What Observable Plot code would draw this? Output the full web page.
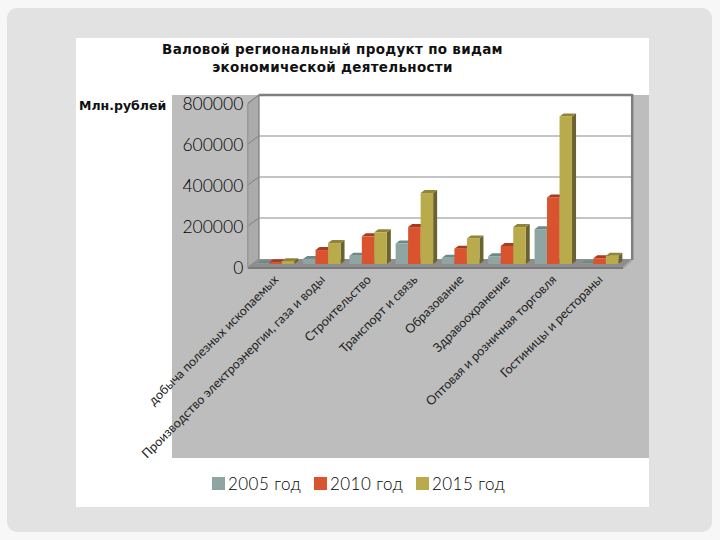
<!DOCTYPE html>
<html><head><meta charset="utf-8">
<script src="https://cdn.jsdelivr.net/npm/d3@7"></script>
<script src="https://cdn.jsdelivr.net/npm/@observablehq/plot@0.6"></script>
<style>
html,body{margin:0;padding:0;background:#f7f7f7;}
#stage{position:relative;width:720px;height:540px;overflow:hidden;font-family:Lato,sans-serif;}
#slide{position:absolute;left:7px;top:8px;width:705px;height:524px;background:#e2e2e2;border-radius:10px;}
#page{position:absolute;left:76px;top:38px;width:573px;height:469px;background:#fff;}
#panel{position:absolute;left:172px;top:95px;width:477px;height:363px;background:#bdbdbd;}
#chart{position:absolute;left:0;top:0;}
#title{position:absolute;left:100px;top:40px;width:465px;text-align:center;font:bold 13.5px/18px "DejaVu Sans",sans-serif;letter-spacing:.3px;color:#111;}
#unit{position:absolute;left:79px;top:98px;font:bold 12.5px/16px "DejaVu Sans",sans-serif;color:#111;}
.lg{position:absolute;top:474px;font:300 17px/20px Lato,sans-serif;color:#000;letter-spacing:.45px;white-space:nowrap;}
.sw{position:absolute;top:477px;width:13px;height:13px;}
</style></head><body>
<div id="stage">
<div id="slide"></div><div id="page"></div><div id="panel"></div>
<div id="chart"></div>
<div id="title">Валовой региональный продукт по видам<br>экономической деятельности</div>
<div id="unit">Млн.рублей</div>
<div id="legend"></div>
</div>
<script>
const categories = ["добыча полезных ископаемых","Производство электроэнергии, газа и воды","Строительство","Транспорт и связь","Образование","Здравоохранение","Оптовая и розничная торговля","Гостиницы и рестораны"];
const years = ["2005 год","2010 год","2015 год"];
const values2005 = [3000,25000,40000,100000,30000,38000,170000,3000];
const values2010 = [8000,68000,135000,180000,75000,88000,325000,28000];
const values2015 = [14000,102000,155000,346000,125000,180000,720000,40000];
const yTicks = [0,200000,400000,600000,800000];
const frontColors = ["#8fa5a2","#d9532f","#b9aa4c"];
const sideColors = ["#56706e","#8a3019","#6a6230"];
const topColors = ["#6e8a88","#a83c20","#8f8438"];
const legendLefts = [[212,228],[314,330],[416,432]];

const series = [values2005,values2010,values2015];
const rows = series.flatMap((vals,s)=>vals.map((v,c)=>({c,s,v,x1:c+0.085+s*0.27,x2:c+0.085+(s+1)*0.27})));
const DX=4, DY=-3;
const NS="http://www.w3.org/2000/svg";
function poly(g,pts,fill,stroke,sw){
  const p=document.createElementNS(NS,"polygon");
  p.setAttribute("points",pts.map(a=>a.join(",")).join(" "));
  p.setAttribute("fill",fill);
  if(stroke){p.setAttribute("stroke",stroke);p.setAttribute("stroke-width",sw||1);}
  g.appendChild(p);
}
// walls and floor of the 3D box, positioned from the scales
function box(index,{x,y}){
  const g=document.createElementNS(NS,"g");
  const L=x(0),R=x(8),b=y(0),t=y(800000);
  poly(g,[[L+6,t-5],[R+9,t-5],[R+9,b-5],[L+6,b-5]],"#fff");
  poly(g,[[L-5,t+4],[L+6,t-5],[L+6,b-5],[L-5,b+3]],"#ababab","#8c8c8c",1);
  poly(g,[[L-5,b+3],[L+6,b-5],[R+9,b-5],[R,b+3]],"#8e8e8e");
  poly(g,[[L-5,b+3],[R,b+3],[R,b+5],[L-5,b+5]],"#7a7a7a");
  poly(g,[[R,b+3],[R+9,b-5],[R+9,b-3],[R,b+5]],"#a5a5a5");
  for(const v of yTicks){
    if(v===0) continue;
    const yy=y(v);
    poly(g,[[L+6,yy-5],[R+9,yy-5]],"none",v===800000?"#7e7e7e":"#8a8a8a",v===800000?2.5:1.2);
    poly(g,[[L-5,yy+3],[L+6,yy-5]],"none","#8a8a8a",1);
  }
  poly(g,[[R+9,t-6],[R+9,b-4]],"none","#7e7e7e",2.5);
  poly(g,[[L+6,t-5],[L+6,b-5]],"none","#8c8c8c",1.5);
  return g;
}
function depth(index,{x,y}){
  const g=document.createElementNS(NS,"g");
  for(const r of rows){
    const a=x(r.x1),b=x(r.x2),t=y(r.v),z=y(0);
    poly(g,[[b,t],[b+DX,t+DY],[b+DX,z+DY],[b,z]],sideColors[r.s]);
    poly(g,[[a,t],[a+DX,t+DY],[b+DX,t+DY],[b,t]],topColors[r.s]);
  }
  return g;
}
const plot=Plot.plot({
  width:720,height:540,
  marginLeft:252.8,marginRight:96.8,marginTop:100,marginBottom:276,
  style:{background:"transparent",overflow:"visible"},
  x:{domain:[0,8],axis:null},
  y:{domain:[0,800000],axis:null},
  marks:[
    box,
    depth,
    Plot.rectY(rows,{x1:"x1",x2:"x2",y1:0,y2:"v",fill:d=>frontColors[d.s]}),
    Plot.text(yTicks,{x:0,y:d=>d,text:d=>String(d),dx:-10,dy:4,textAnchor:"end",fontSize:17.5,fontWeight:300,fontFamily:"Lato,sans-serif",fill:"#000"}),
    Plot.text(categories,{x:(d,i)=>i+0.5,y:0,text:d=>d,dy:13,textAnchor:"end",rotate:-45,fontSize:12.6,fontFamily:"Lato,sans-serif",fill:"#222"})
  ]
});
document.getElementById("chart").appendChild(plot);
const lg=document.getElementById("legend");
years.forEach((y,i)=>{
  const s=document.createElement("div");s.className="sw";s.style.left=legendLefts[i][0]+"px";s.style.background=frontColors[i];lg.appendChild(s);
  const t=document.createElement("div");t.className="lg";t.style.left=legendLefts[i][1]+"px";t.textContent=y;lg.appendChild(t);
});
</script>
</body></html>
